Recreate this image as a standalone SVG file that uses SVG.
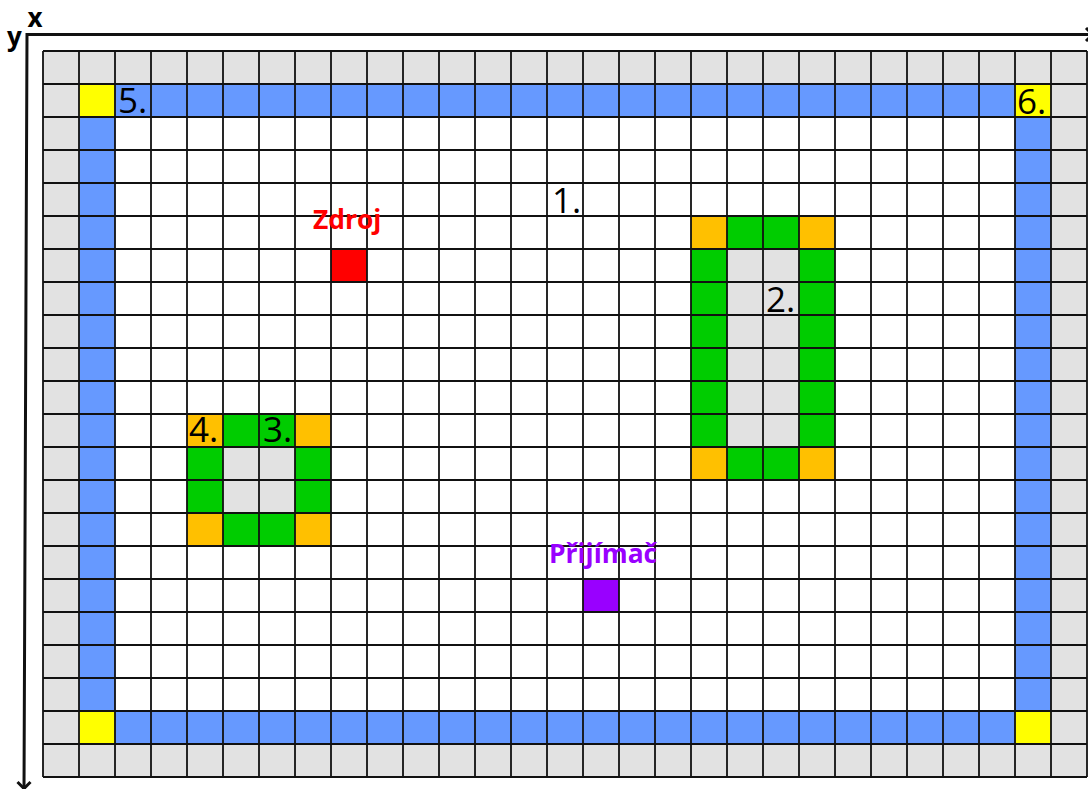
<svg xmlns="http://www.w3.org/2000/svg" width="1088" height="789" viewBox="0 0 1088 789">
  <style>
    .grey{fill:#E2E2E2}.blue{fill:#6699FF}.green{fill:#00CC00}.orange{fill:#FFC000}.yellow{fill:#FFFF00}
    .grid{fill:none;stroke:#111;stroke-width:1.8}
    .axis{fill:none;stroke:#111;stroke-width:3}
    .num{font-family:"Open Sans","Liberation Sans",sans-serif;font-size:35px;fill:#000}
    .lab{font-family:"Open Sans","Liberation Sans",sans-serif;font-size:26.4px;font-weight:700}
    .ax{font-family:"Open Sans","Liberation Sans",sans-serif;font-size:26px;font-weight:700;fill:#000}
  </style>
  <rect width="1088" height="789" fill="#fff"/>
  <g id="axes">
    <path class="axis" d="M1092 34.500H27L24 790"/>
    <path class="axis" d="M17.500 782L24 788.500L30.500 782"/>
    <path class="axis" d="M1086 28L1093 34.500L1086 41"/>
    <text class="ax" x="27.500" y="27">x</text>
    <text class="ax" x="7" y="46">y</text>
  </g>
  <g id="border">
    <path class="grey" d="M43 51H1087V777H43ZM79 84V744H1051V84Z" fill-rule="evenodd"/>
    <rect class="blue" x="115" y="84" width="900" height="33"/>
    <rect class="blue" x="115" y="711" width="900" height="33"/>
    <rect class="blue" x="79" y="117" width="36" height="594"/>
    <rect class="blue" x="1015" y="117" width="36" height="594"/>
    <rect class="yellow" x="79" y="84" width="36" height="33"/>
    <rect class="yellow" x="1015" y="84" width="36" height="33"/>
    <rect class="yellow" x="79" y="711" width="36" height="33"/>
    <rect class="yellow" x="1015" y="711" width="36" height="33"/>
  </g>
  <g id="obstacle-large">
    <rect class="green" x="691" y="216" width="144" height="264"/>
    <rect class="grey" x="727" y="249" width="72" height="198"/>
    <rect class="orange" x="691" y="216" width="36" height="33"/>
    <rect class="orange" x="799" y="216" width="36" height="33"/>
    <rect class="orange" x="691" y="447" width="36" height="33"/>
    <rect class="orange" x="799" y="447" width="36" height="33"/>
  </g>
  <g id="obstacle-small">
    <rect class="green" x="187" y="414" width="144" height="132"/>
    <rect class="grey" x="223" y="447" width="72" height="66"/>
    <rect class="orange" x="187" y="414" width="36" height="33"/>
    <rect class="orange" x="295" y="414" width="36" height="33"/>
    <rect class="orange" x="187" y="513" width="36" height="33"/>
    <rect class="orange" x="295" y="513" width="36" height="33"/>
  </g>
  <g id="source"><rect x="331" y="249" width="36" height="33" fill="#FF0000"/></g>
  <g id="receiver"><rect x="583" y="579" width="36" height="33" fill="#9900FF"/></g>
  <path id="grid" class="grid" d="M43 51V777M79 51V777M115 51V777M151 51V777M187 51V777M223 51V777M259 51V777M295 51V777M331 51V777M367 51V777M403 51V777M439 51V777M475 51V777M511 51V777M547 51V777M583 51V777M619 51V777M655 51V777M691 51V777M727 51V777M763 51V777M799 51V777M835 51V777M871 51V777M907 51V777M943 51V777M979 51V777M1015 51V777M1051 51V777M1087 51V777M43 51H1087M43 84H1087M43 117H1087M43 150H1087M43 183H1087M43 216H1087M43 249H1087M43 282H1087M43 315H1087M43 348H1087M43 381H1087M43 414H1087M43 447H1087M43 480H1087M43 513H1087M43 546H1087M43 579H1087M43 612H1087M43 645H1087M43 678H1087M43 711H1087M43 744H1087M43 777H1087"/>
  <g id="labels">
    <text class="num" x="118" y="113">5.</text>
    <text class="num" x="1017" y="114">6.</text>
    <text class="num" x="552" y="213">1.</text>
    <text class="num" x="766" y="312">2.</text>
    <text class="num" x="263" y="442">3.</text>
    <text class="num" x="189" y="442">4.</text>
    <text class="lab" x="313" y="229" fill="#FF0000">Zdroj</text>
    <text class="lab" x="549" y="563" fill="#9900FF">Přijímač</text>
  </g>
</svg>
